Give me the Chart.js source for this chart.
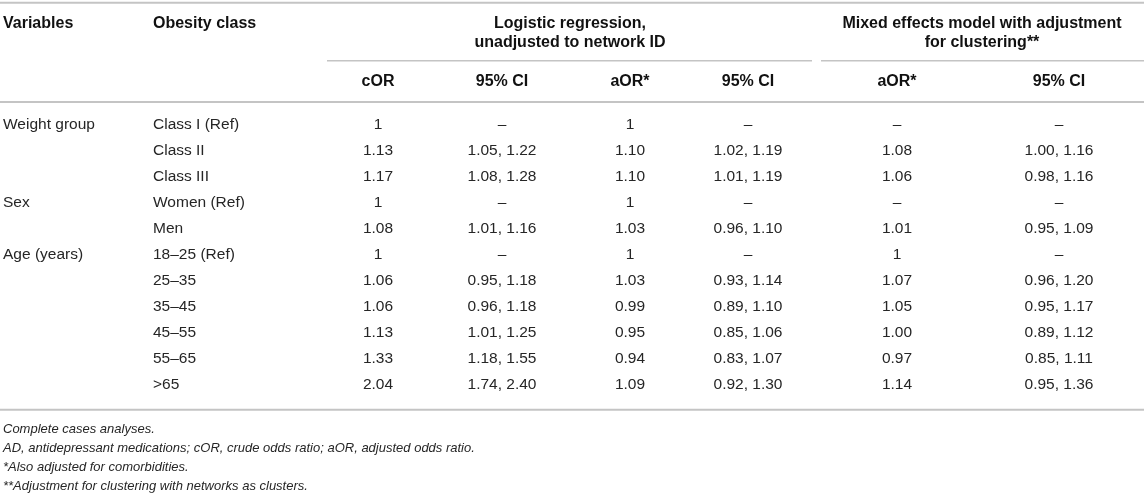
<!DOCTYPE html>
<html>
<head>
<meta charset="utf-8">
<title>Odds ratios by obesity class</title>
<script src="https://cdn.jsdelivr.net/npm/chart.js@4.4.1/dist/chart.umd.min.js"></script>
<style>
  html, body { margin: 0; padding: 0; background: #fff; }
  canvas { display: block; }
</style>
</head>
<body>
<canvas id="table" width="1144" height="498"></canvas>
<script>
// table content
const variables = ['Weight group', '', '', 'Sex', '', 'Age (years)', '', '', '', '', ''];
const obesityClass = ['Class I (Ref)', 'Class II', 'Class III', 'Women (Ref)', 'Men',
    '18\u201325 (Ref)', '25\u201335', '35\u201345', '45\u201355', '55\u201365', '>65'];
const cOR = ['1', '1.13', '1.17', '1', '1.08', '1', '1.06', '1.06', '1.13', '1.33', '2.04'];
const cOrCI = ['\u2013', '1.05, 1.22', '1.08, 1.28', '\u2013', '1.01, 1.16', '\u2013',
    '0.95, 1.18', '0.96, 1.18', '1.01, 1.25', '1.18, 1.55', '1.74, 2.40'];
const aOR = ['1', '1.10', '1.10', '1', '1.03', '1', '1.03', '0.99', '0.95', '0.94', '1.09'];
const aOrCI = ['\u2013', '1.02, 1.19', '1.01, 1.19', '\u2013', '0.96, 1.10', '\u2013',
    '0.93, 1.14', '0.89, 1.10', '0.85, 1.06', '0.83, 1.07', '0.92, 1.30'];
const mixedAOR = ['\u2013', '1.08', '1.06', '\u2013', '1.01', '1', '1.07', '1.05', '1.00', '0.97', '1.14'];
const mixedCI = ['\u2013', '1.00, 1.16', '0.98, 1.16', '\u2013', '0.95, 1.09', '\u2013',
    '0.96, 1.20', '0.95, 1.17', '0.89, 1.12', '0.85, 1.11', '0.95, 1.36'];

const subHeaders = ['cOR', '95% CI', 'aOR*', '95% CI', 'aOR*', '95% CI'];
const groupTitles = [
    ['Logistic regression,', 'unadjusted to network ID'],
    ['Mixed effects model with adjustment', 'for clustering**']
];
const footnotes = [
    'Complete cases analyses.',
    'AD, antidepressant medications; cOR, crude odds ratio; aOR, adjusted odds ratio.',
    '*Also adjusted for comorbidities.',
    '**Adjustment for clustering with networks as clusters.'
];

// layout (x in pixels of the x scale, y in row units of the y scale)
const columns = [
    { values: variables, x: 3, align: 'left' },
    { values: obesityClass, x: 153, align: 'left' },
    { values: cOR, x: 378, align: 'center' },
    { values: cOrCI, x: 502, align: 'center' },
    { values: aOR, x: 630, align: 'center' },
    { values: aOrCI, x: 748, align: 'center' },
    { values: mixedAOR, x: 897, align: 'center' },
    { values: mixedCI, x: 1059, align: 'center' }
];
const groups = [
    { x: 570, from: 327, to: 812 },
    { x: 982, from: 821, to: 1144 }
];
const rowsY = { head1: -3.9, head2: -3.18, groupRule: -2.46, subHead: -1.68 };
const rules = [-4.69, -0.88, 10.96];
const notesY = [11.7, 12.43, 13.16, 13.89];

const FONT = '"Liberation Sans", Arial, Helvetica, sans-serif';

const tablePlugin = {
    id: 'tableText',
    afterDatasetsDraw(chart) {
        const ctx = chart.ctx;
        const x = chart.scales.x;
        const y = chart.scales.y;
        ctx.save();
        ctx.textBaseline = 'middle';

        // horizontal rules
        ctx.strokeStyle = '#c4c4c4';
        ctx.lineWidth = 2;
        rules.forEach(r => {
            ctx.beginPath();
            ctx.moveTo(x.getPixelForValue(0), y.getPixelForValue(r));
            ctx.lineTo(x.getPixelForValue(1144), y.getPixelForValue(r));
            ctx.stroke();
        });
        ctx.lineWidth = 1.5;
        groups.forEach(g => {
            ctx.beginPath();
            ctx.moveTo(x.getPixelForValue(g.from), y.getPixelForValue(rowsY.groupRule));
            ctx.lineTo(x.getPixelForValue(g.to), y.getPixelForValue(rowsY.groupRule));
            ctx.stroke();
        });

        // header
        ctx.fillStyle = '#111';
        ctx.font = 'bold 16px ' + FONT;
        ctx.textAlign = 'left';
        ctx.fillText('Variables', x.getPixelForValue(columns[0].x), y.getPixelForValue(rowsY.head1));
        ctx.fillText('Obesity class', x.getPixelForValue(columns[1].x), y.getPixelForValue(rowsY.head1));
        ctx.textAlign = 'center';
        groups.forEach((g, gi) => {
            ctx.fillText(groupTitles[gi][0], x.getPixelForValue(g.x), y.getPixelForValue(rowsY.head1));
            ctx.fillText(groupTitles[gi][1], x.getPixelForValue(g.x), y.getPixelForValue(rowsY.head2));
        });
        subHeaders.forEach((s, i) => {
            ctx.fillText(s, x.getPixelForValue(columns[i + 2].x), y.getPixelForValue(rowsY.subHead));
        });

        // body cells, placed on the dataset points
        ctx.fillStyle = '#262626';
        ctx.font = '15.5px ' + FONT;
        chart.data.datasets.forEach((ds, di) => {
            const meta = chart.getDatasetMeta(di);
            ctx.textAlign = columns[di].align;
            meta.data.forEach((pt, i) => {
                ctx.fillText(columns[di].values[i], pt.x, pt.y);
            });
        });

        // footnotes
        ctx.font = 'italic 13px ' + FONT;
        ctx.textAlign = 'left';
        footnotes.forEach((f, i) => {
            ctx.fillText(f, x.getPixelForValue(3), y.getPixelForValue(notesY[i]));
        });
        ctx.restore();
    }
};

new Chart(document.getElementById('table').getContext('2d'), {
    type: 'scatter',
    data: {
        datasets: columns.map((col, ci) => ({
            label: 'col' + ci,
            data: col.values.map((v, i) => ({ x: col.x, y: i })),
            pointRadius: 0,
            pointHoverRadius: 0
        }))
    },
    options: {
        responsive: false,
        animation: false,
        events: [],
        layout: { padding: 0, autoPadding: false },
        plugins: { legend: { display: false }, tooltip: { enabled: false } },
        scales: {
            x: { type: 'linear', display: false, min: 0, max: 1144 },
            y: { type: 'linear', display: false, reverse: true, min: -4.8, max: 14.35 }
        }
    },
    plugins: [tablePlugin]
});
</script>
</body>
</html>
